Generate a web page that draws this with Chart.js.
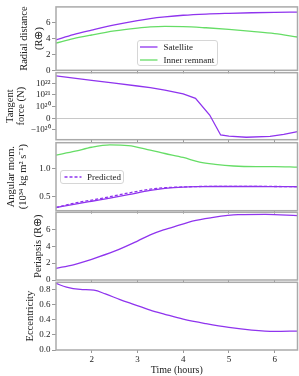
<!DOCTYPE html>
<html><head><meta charset="utf-8">
<script src="https://cdn.jsdelivr.net/npm/chart.js@4.4.1/dist/chart.umd.min.js"></script>
<style>
html,body{margin:0;padding:0;background:#fff;}
#wrap{position:relative;width:299px;height:376px;overflow:hidden;}
#wrap canvas{position:absolute;left:0;top:0;}
.legend{position:absolute;background:rgba(255,255,255,0.85);border:1px solid #d6d6d6;border-radius:3px;box-sizing:border-box;font:9px "Liberation Serif",serif;color:#222;}
.legend .row{position:absolute;left:0;right:0;height:12px;line-height:12px;white-space:nowrap;}
.legend svg{position:absolute;top:0;}
.legend span{position:absolute;top:0;}
</style></head>
<body>
<div id="wrap">
<canvas id="c1" width="299" height="376"></canvas>
<canvas id="c2" width="299" height="376"></canvas>
<canvas id="c3" width="299" height="376"></canvas>
<canvas id="c4" width="299" height="376"></canvas>
<canvas id="c5" width="299" height="376"></canvas>
</div>
<script>
// ---------- data ----------
const xTickValues = [2, 3, 4, 5, 6];

const radialTime      = [1.22, 1.6, 2.0, 2.5, 3.0, 3.28, 3.6, 4.0, 4.5, 5.0, 5.5, 6.0, 6.5];
const radialSatellite = [3.8, 4.45, 5.0, 5.65, 6.2, 6.45, 6.66, 6.86, 7.01, 7.1, 7.17, 7.22, 7.25];
const radialInner     = [3.4, 3.95, 4.4, 4.9, 5.25, 5.4, 5.47, 5.45, 5.3, 5.1, 4.85, 4.57, 4.15];
const radialTicks     = [0, 2, 4, 6];

const forceTime      = [1.22, 2.0, 2.5, 3.0, 3.28, 3.6, 4.0, 4.27, 4.58, 4.82, 5.0, 5.38, 5.9, 6.2, 6.5];
const forceSatellite = [4.2e22, 1.74e22, 1.0e22, 5.75e21, 4.2e21, 2.6e21, 1.2e21, 5.1e20, 2.8e19, -2.7e20, -3.3e20, -4.2e20, -3.6e20, -2.4e20, -1.4e20];
const forceTicks      = [-1e20, 0, 1e20, 1e21, 1e22];
const forceTickLabels = ['\u221210\u00b2\u2070', '0', '10\u00b2\u2070', '10\u00b2\u00b9', '10\u00b2\u00b2'];

const angTime      = [1.22, 1.64, 2.0, 2.4, 2.8, 3.28, 3.6, 4.0, 4.36, 4.7, 5.1, 5.6, 6.0, 6.5];
const angSatellite = [0.31, 0.37, 0.42, 0.475, 0.535, 0.61, 0.645, 0.67, 0.677, 0.68, 0.68, 0.68, 0.678, 0.675];
const angInner     = [1.23, 1.3, 1.37, 1.41, 1.40, 1.32, 1.26, 1.19, 1.11, 1.07, 1.04, 1.03, 1.03, 1.02];
const angPredicted = [0.31, 0.39, 0.44, 0.50, 0.565, 0.632, 0.658, 0.672, 0.68, 0.682, 0.682, 0.682, 0.68, 0.677];
const angTicks     = [0.5, 1.0];

const periTime      = [1.22, 1.6, 2.0, 2.5, 3.0, 3.28, 3.57, 3.93, 4.2, 4.6, 5.2, 5.8, 6.5];
const periSatellite = [1.38, 1.8, 2.45, 3.4, 4.6, 5.33, 5.92, 6.5, 6.95, 7.35, 7.72, 7.75, 7.6];
const periTicks     = [0, 2, 4, 6];

const eccTime      = [1.22, 1.45, 1.75, 2.05, 2.3, 2.62, 2.9, 3.28, 3.6, 4.0, 4.5, 5.0, 5.5, 6.0, 6.5];
const eccSatellite = [0.885, 0.835, 0.805, 0.795, 0.745, 0.67, 0.61, 0.53, 0.475, 0.41, 0.35, 0.30, 0.265, 0.248, 0.252];
const eccTicks     = [0, 0.2, 0.4, 0.6, 0.8];

// ---------- style ----------
const PURPLE = '#8f34ee', GREEN = '#66dd66', AXIS = '#aaaaaa', TXT = '#222';
const FONT = '"Liberation Serif", "Times New Roman", serif';
const TICK_FONT = {family: FONT, size: 9};
const X_MIN = 1.22, X_MAX = 6.5;
const LINTHRESH = 1e20;

// symlog scale (matplotlib style, linscale 1)
class SymlogScale extends Chart.LinearScale {
  tf(v) { const a = Math.abs(v); return a <= LINTHRESH ? v / LINTHRESH : Math.sign(v) * (1 + Math.log10(a / LINTHRESH)); }
  itf(t) { const a = Math.abs(t); return a <= 1 ? t * LINTHRESH : Math.sign(t) * LINTHRESH * Math.pow(10, a - 1); }
  getPixelForValue(v) {
    const lo = this.tf(this.min), hi = this.tf(this.max);
    return this.getPixelForDecimal((this.tf(v) - lo) / (hi - lo));
  }
  getValueForPixel(p) {
    const lo = this.tf(this.min), hi = this.tf(this.max);
    return this.itf(lo + this.getDecimalForPixel(p) * (hi - lo));
  }
}
SymlogScale.id = 'symlog';
SymlogScale.defaults = Chart.LinearScale.defaults;
Chart.register(SymlogScale);

const framePlugin = {
  id: 'frame',
  afterDatasetsDraw(chart) {
    const a = chart.chartArea, ctx = chart.ctx;
    ctx.save(); ctx.strokeStyle = AXIS; ctx.lineWidth = 1.5;
    ctx.strokeRect(a.left, a.top, a.right - a.left, a.bottom - a.top);
    ctx.restore();
  }
};

function pts(xs, ys) { return xs.map((x, i) => ({x: x, y: ys[i]})); }

function makePanel(id, o) {
  return new Chart(document.getElementById(id), {
    type: 'line',
    data: {datasets: o.datasets},
    options: {
      responsive: false, animation: false, devicePixelRatio: 1,
      layout: {padding: {top: o.top, bottom: o.bottom, left: 0, right: 1.5}},
      plugins: {legend: {display: false}, tooltip: {enabled: false}},
      elements: {point: {radius: 0}, line: {borderWidth: 1.3}},
      scales: {
        x: {
          type: 'linear', min: X_MIN, max: X_MAX, position: 'bottom',
          afterFit: s => { s.height = o.xHeight; },
          afterBuildTicks: s => { s.ticks = xTickValues.map(v => ({value: v})); },
          grid: {drawOnChartArea: false, tickLength: 3, tickColor: '#999'},
          border: {display: false},
          ticks: {display: o.showX, font: TICK_FONT, color: TXT, padding: 1, maxRotation: 0, callback: v => String(v)},
          title: {display: o.showX, text: 'Time (hours)', color: TXT, font: {family: FONT, size: 10, lineHeight: 1.1}, padding: 0}
        },
        y: {
          type: o.yType || 'linear', min: o.yMin, max: o.yMax,
          afterFit: s => { s.width = 56; },
          afterBuildTicks: s => { s.ticks = o.yTicks.map(v => ({value: v})); },
          grid: {
            drawOnChartArea: !!o.zeroLine, tickLength: 4, tickColor: '#999',
            color: c => (o.zeroLine && c.tick && c.tick.value === 0) ? '#c8c8c8' : 'rgba(0,0,0,0)'
          },
          border: {display: false},
          ticks: {font: TICK_FONT, color: TXT, padding: 1.5, callback: o.yLabel},
          title: {display: true, text: o.title, color: TXT, font: {family: FONT, size: 10.5, lineHeight: o.titleLH}, padding: {top: o.titlePad, bottom: 0}}
        }
      }
    },
    plugins: [framePlugin]
  });
}

const smooth = {cubicInterpolationMode: 'monotone'};

makePanel('c1', {
  top: 2.5, bottom: 376 - 70.3, xHeight: 0, showX: false,
  yMin: 0, yMax: 7.9, yTicks: radialTicks, yLabel: v => String(v),
  title: ['Radial distance', '(R\u2295)'], titleLH: '15px', titlePad: 16.5,
  datasets: [
    Object.assign({label: 'Satellite', data: pts(radialTime, radialSatellite), borderColor: PURPLE}, smooth),
    Object.assign({label: 'Inner remnant', data: pts(radialTime, radialInner), borderColor: GREEN}, smooth)
  ]
});

makePanel('c2', {
  top: 72.7, bottom: 376 - 139.7, xHeight: 0, showX: false, yType: 'symlog', zeroLine: true,
  yMin: -6.8e20, yMax: 7.9e22, yTicks: forceTicks, yLabel: (v, i) => forceTickLabels[i],
  title: ['Tangent', 'force (N)'], titleLH: '11px', titlePad: 5,
  datasets: [
    {label: 'Satellite', data: pts(forceTime, forceSatellite), borderColor: PURPLE, tension: 0}
  ]
});

makePanel('c3', {
  top: 142.7, bottom: 376 - 210.7, xHeight: 0, showX: false,
  yMin: 0.254, yMax: 1.45, yTicks: angTicks, yLabel: v => v.toFixed(1),
  title: ['Angular mom.', '(10\u00b3\u2074 kg m\u00b2 s\u207b\u00b9)'], titleLH: '12px', titlePad: 5,
  datasets: [
    Object.assign({label: 'Satellite', data: pts(angTime, angSatellite), borderColor: PURPLE}, smooth),
    Object.assign({label: 'Inner remnant', data: pts(angTime, angInner), borderColor: GREEN}, smooth),
    Object.assign({label: 'Predicted', data: pts(angTime, angPredicted), borderColor: PURPLE, borderDash: [3, 2]}, smooth)
  ]
});

makePanel('c4', {
  top: 212.3, bottom: 376 - 280, xHeight: 0, showX: false,
  yMin: 0, yMax: 8, yTicks: periTicks, yLabel: v => String(v),
  title: 'Periapsis (R\u2295)', titleLH: '12px', titlePad: 32.3,
  datasets: [
    Object.assign({label: 'Satellite', data: pts(periTime, periSatellite), borderColor: PURPLE}, smooth)
  ]
});

makePanel('c5', {
  top: 282.3, bottom: 0, xHeight: 26, showX: true,
  yMin: 0, yMax: 0.9, yTicks: eccTicks, yLabel: v => v.toFixed(1),
  title: 'Eccentricity', titleLH: '12px', titlePad: 24,
  datasets: [
    Object.assign({label: 'Satellite', data: pts(eccTime, eccSatellite), borderColor: PURPLE}, smooth)
  ]
});

// ---------- legends ----------
function addLegend(box, items) {
  const d = document.createElement('div');
  d.className = 'legend';
  Object.assign(d.style, {left: box.left + 'px', top: box.top + 'px', width: box.w + 'px', height: box.h + 'px'});
  items.forEach((it, i) => {
    const r = document.createElement('div');
    r.className = 'row';
    r.style.top = (box.rowTop + i * box.rowGap) + 'px';
    const dash = it.dash ? ' stroke-dasharray="' + it.dash.join(',') + '"' : '';
    r.innerHTML = '<svg width="' + (box.lineX + box.lineW + 2) + '" height="12"><line x1="' + box.lineX + '" y1="6" x2="' + (box.lineX + box.lineW) + '" y2="6" stroke="' + it.color + '" stroke-width="1.3"' + dash + '/></svg>' +
      '<span style="left:' + box.textX + 'px">' + it.label + '</span>';
    d.appendChild(r);
  });
  document.getElementById('wrap').appendChild(d);
}
addLegend({left: 137, top: 39.5, w: 81, h: 26.5, rowTop: 0.3, rowGap: 13, lineX: 2, lineW: 17.5, textX: 25.5},
  [{label: 'Satellite', color: PURPLE}, {label: 'Inner remnant', color: GREEN}]);
addLegend({left: 59.5, top: 169.5, w: 64, h: 14, rowTop: 0.5, rowGap: 13, lineX: 3.5, lineW: 17, textX: 26.5},
  [{label: 'Predicted', color: PURPLE, dash: [3, 2]}]);
</script>
</body></html>
